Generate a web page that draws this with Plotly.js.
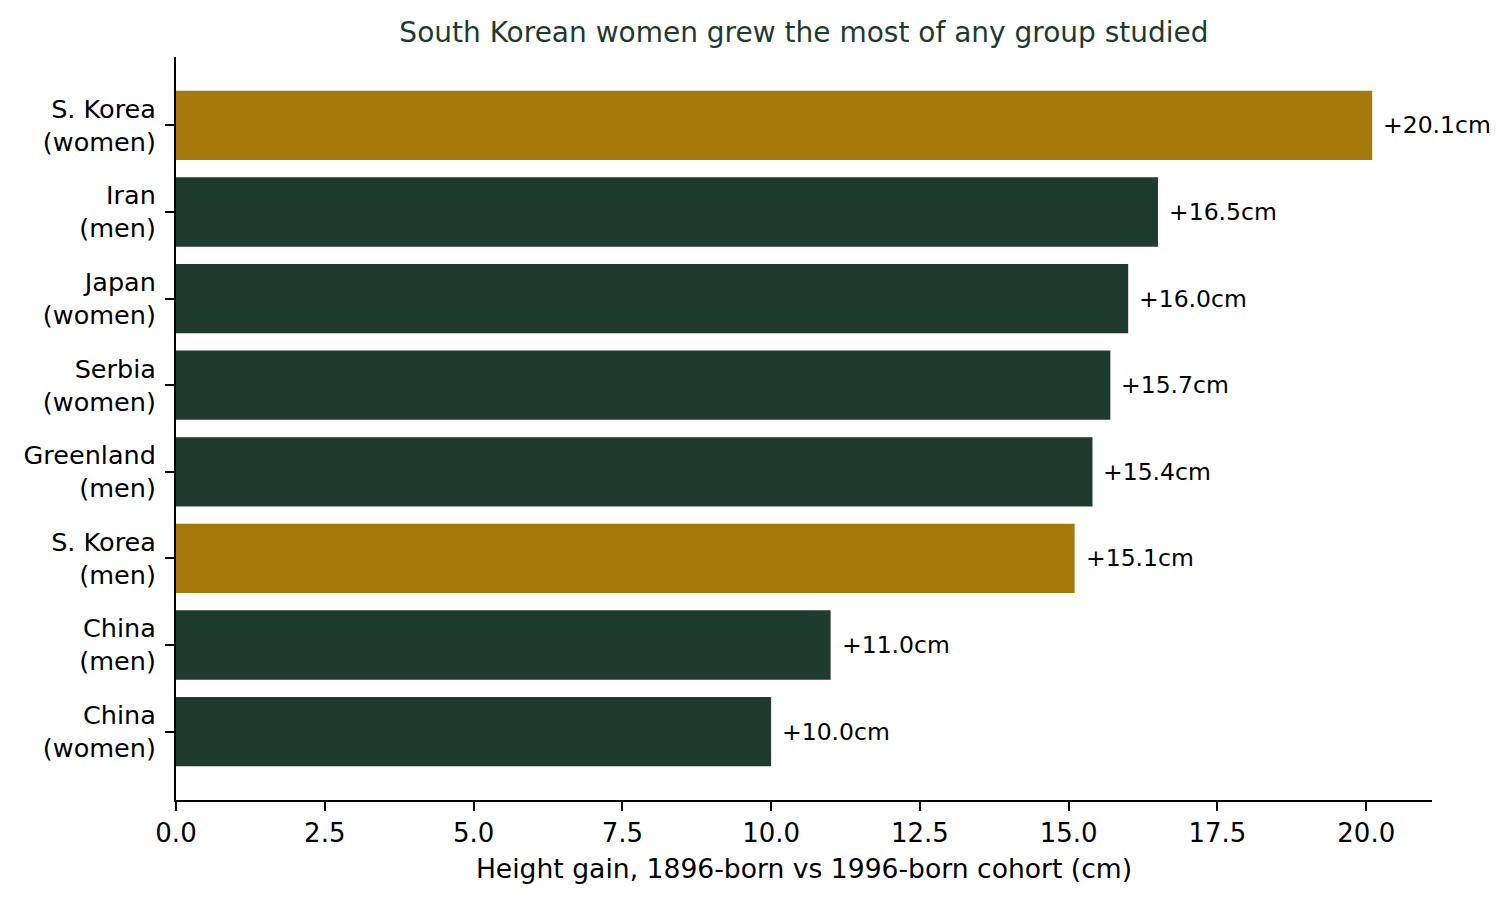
<!DOCTYPE html>
<html>
<head>
<meta charset="utf-8">
<script src="https://cdn.plot.ly/plotly-3.0.1.min.js"></script>
<style>
	html, body { margin: 0; padding: 0; background: #fff; }
	#chart { width: 1512px; height: 902px; }
</style>
</head>
<body>
<div id="chart"></div>
<script>
	// top to bottom, as in the chart
	var groups = ['S. Korea<br>(women)', 'Iran<br>(men)', 'Japan<br>(women)', 'Serbia<br>(women)',
		'Greenland<br>(men)', 'S. Korea<br>(men)', 'China<br>(men)', 'China<br>(women)'];
	var gains = [20.1, 16.5, 16.0, 15.7, 15.4, 15.1, 11.0, 10.0];
	var korea = [true, false, false, false, false, true, false, false];
	var xTicks = [0, 2.5, 5, 7.5, 10, 12.5, 15, 17.5, 20];

	var gold = '#a6780a';
	var green = '#1f3a2f';
	var font = 'DejaVu Sans, sans-serif';

	var data = [{
		type: 'bar',
		orientation: 'h',
		y: groups,
		x: gains,
		width: 0.8,
		marker: {
			color: korea.map(function (k) { return k ? gold : green; }),
			line: { width: 0 }
		},
		hoverinfo: 'skip'
	}];

	var labels = gains.map(function (v, i) {
		return {
			x: v,
			y: groups[i],
			xref: 'x',
			yref: 'y',
			text: '+' + v.toFixed(1) + 'cm',
			showarrow: false,
			xanchor: 'left',
			yanchor: 'middle',
			xshift: 9,
			font: { family: font, size: 23.5, color: '#000' }
		};
	});

	var layout = {
		width: 1512,
		height: 902,
		paper_bgcolor: '#fff',
		plot_bgcolor: '#fff',
		showlegend: false,
		margin: { l: 176, r: 80, t: 57, b: 102, pad: 0 },
		title: {
			text: 'South Korean women grew the most of any group studied',
			font: { family: font, size: 28, color: green },
			x: 0.5,
			xref: 'paper',
			y: 1 - 32 / 902,
			yref: 'container',
			yanchor: 'middle'
		},
		xaxis: {
			range: [0, 21.105],
			tickvals: xTicks,
			ticktext: xTicks.map(function (t) { return t.toFixed(1); }),
			ticks: 'outside',
			ticklen: 9,
			tickwidth: 2,
			tickcolor: '#000',
			showline: true,
			linecolor: '#000',
			linewidth: 2,
			showgrid: false,
			zeroline: false,
			tickfont: { family: font, size: 26, color: '#000' },
			title: {
				text: 'Height gain, 1896-born vs 1996-born cohort (cm)',
				font: { family: font, size: 26.6, color: '#000' },
				standoff: 12
			},
			automargin: false,
			fixedrange: true
		},
		yaxis: {
			type: 'category',
			categoryorder: 'array',
			categoryarray: groups,
			range: [7.79, -0.79],
			ticks: 'outside',
			ticklen: 9,
			tickwidth: 2,
			tickcolor: '#000',
			showline: true,
			linecolor: '#000',
			linewidth: 2,
			showgrid: false,
			zeroline: false,
			tickfont: { family: font, size: 25.5, color: '#000' },
			ticklabelstandoff: 4,
			automargin: false,
			fixedrange: true
		},
		annotations: labels
	};

	Plotly.newPlot('chart', data, layout, { displayModeBar: false, staticPlot: true });
</script>
</body>
</html>
